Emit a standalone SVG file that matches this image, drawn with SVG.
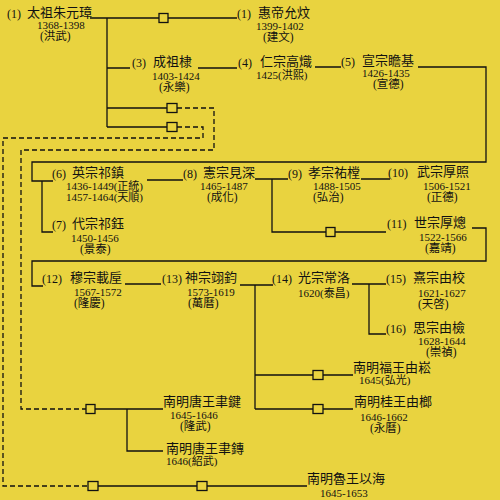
<svg xmlns="http://www.w3.org/2000/svg" width="500" height="500" viewBox="0 0 500 500">
<style>
text{font-family:"Liberation Serif","Noto Sans CJK TC",serif;fill:#111}
.n{font-size:12px}
.m{font-size:13px}
.y{font-size:11px}
.p{font-size:11.5px}
.ln{fill:none;stroke:#111;stroke-width:1.3}
.ds{fill:none;stroke:#111;stroke-width:1.3;stroke-dasharray:5,3}
.sq{fill:none;stroke:#111;stroke-width:1.3}
</style>
<rect width="500" height="500" fill="#E9D33F"/>
<g id="connectors">
<path class="ln" d="M90,18H159M168,18H237"/>
<path class="ln" d="M107,18V127M107,68H130M107,108H167M107,127H167"/>
<path class="ln" d="M198,68H237M315,67H341"/>
<path class="ln" d="M418,67H486V162H32V181H53M42,181V232H53"/>
<path class="ln" d="M147,180H183M255,179H288M361,179H390"/>
<path class="ln" d="M272,179V232H326M335,232H386"/>
<path class="ln" d="M472,228H486V261H32V286H43"/>
<path class="ln" d="M125,284H161M240,285H273"/>
<path class="ln" d="M255,285V409M255,375H313M323,375H353M255,409H313M323,409H353"/>
<path class="ln" d="M352,284H386M369,284V334H386"/>
<path class="ln" d="M95,409H163M127,409V451H163"/>
<path class="ln" d="M98,486H197M207,486H307"/>
<path class="ds" d="M177,108H214V150H21V409H86"/>
<path class="ds" d="M177,127H203V138H3V486H88"/>
<rect class="sq" x="159" y="13.5" width="9" height="9"/>
<rect class="sq" x="167" y="103.5" width="10" height="9"/>
<rect class="sq" x="167" y="122.5" width="10" height="9"/>
<rect class="sq" x="326" y="227.5" width="9" height="9"/>
<rect class="sq" x="313" y="370.5" width="10" height="9"/>
<rect class="sq" x="313" y="404.5" width="10" height="9"/>
<rect class="sq" x="86" y="404.5" width="9" height="9"/>
<rect class="sq" x="88" y="481.5" width="10" height="9"/>
<rect class="sq" x="197" y="481.5" width="10" height="9"/>
</g>
<g id="n1"><text class="n" x="7" y="18">(1)</text><text class="m" x="27" y="17">太祖朱元璋</text><text class="y" x="37" y="29">1368-1398</text><text class="p" x="40" y="40">(洪武)</text></g>
<g id="n2"><text class="n" x="237" y="18">(1)</text><text class="m" x="258" y="17">惠帝允炆</text><text class="y" x="256" y="30">1399-1402</text><text class="p" x="263" y="41">(建文)</text></g>
<g id="n3"><text class="n" x="132" y="67">(3)</text><text class="m" x="153" y="66">成祖棣</text><text class="y" x="152" y="80">1403-1424</text><text class="p" x="159" y="91">(永樂)</text></g>
<g id="n4"><text class="n" x="238" y="67">(4)</text><text class="m" x="260" y="66">仁宗高熾</text><text class="y" x="256" y="79">1425(洪熙)</text></g>
<g id="n5"><text class="n" x="341" y="66">(5)</text><text class="m" x="362" y="65">宣宗瞻基</text><text class="y" x="362" y="77">1426-1435</text><text class="p" x="373" y="88">(宣德)</text></g>
<g id="n6"><text class="n" x="52" y="178">(6)</text><text class="m" x="72" y="177">英宗祁鎮</text><text class="y" x="66" y="190">1436-1449(正統)</text><text class="y" x="66" y="201">1457-1464(天順)</text></g>
<g id="n7"><text class="n" x="52" y="229">(7)</text><text class="m" x="72" y="228">代宗祁鈺</text><text class="y" x="71" y="242">1450-1456</text><text class="p" x="80" y="253">(景泰)</text></g>
<g id="n8"><text class="n" x="183" y="178">(8)</text><text class="m" x="203" y="177">憲宗見深</text><text class="y" x="200" y="190">1465-1487</text><text class="p" x="207" y="201">(成化)</text></g>
<g id="n9"><text class="n" x="288" y="178">(9)</text><text class="m" x="308" y="177">孝宗祐樘</text><text class="y" x="313" y="190">1488-1505</text><text class="p" x="313" y="201">(弘治)</text></g>
<g id="n10"><text class="n" x="388" y="177">(10)</text><text class="m" x="417" y="176">武宗厚照</text><text class="y" x="423" y="190">1506-1521</text><text class="p" x="427" y="201">(正德)</text></g>
<g id="n11"><text class="n" x="387" y="228">(11)</text><text class="m" x="414" y="227">世宗厚熜</text><text class="y" x="419" y="241">1522-1566</text><text class="p" x="425" y="252">(嘉靖)</text></g>
<g id="n12"><text class="n" x="42" y="283">(12)</text><text class="m" x="70" y="282">穆宗載垕</text><text class="y" x="74" y="296">1567-1572</text><text class="p" x="74" y="307">(隆慶)</text></g>
<g id="n13"><text class="n" x="162" y="283" font-size="11">(13)</text><text class="m" x="185" y="282">神宗翊鈞</text><text class="y" x="187" y="296">1573-1619</text><text class="p" x="188" y="307">(萬曆)</text></g>
<g id="n14"><text class="n" x="272" y="283">(14)</text><text class="m" x="298" y="282">光宗常洛</text><text class="y" x="298" y="297">1620(泰昌)</text></g>
<g id="n15"><text class="n" x="386" y="283">(15)</text><text class="m" x="413" y="282">熹宗由校</text><text class="y" x="418" y="297">1621-1627</text><text class="p" x="418" y="308">(天啓)</text></g>
<g id="n16"><text class="n" x="386" y="333">(16)</text><text class="m" x="413" y="332">思宗由檢</text><text class="y" x="418" y="345">1628-1644</text><text class="p" x="426" y="356">(崇禎)</text></g>
<g id="nm1"><text class="m" x="353" y="372">南明福王由崧</text><text class="y" x="359" y="384">1645(弘光)</text></g>
<g id="nm2"><text class="m" x="354" y="406">南明桂王由榔</text><text class="y" x="360" y="421">1646-1662</text><text class="p" x="370" y="432">(永曆)</text></g>
<g id="nm3"><text class="m" x="163" y="406">南明唐王聿鍵</text><text class="y" x="170" y="419">1645-1646</text><text class="p" x="180" y="430">(隆武)</text></g>
<g id="nm4"><text class="m" x="166" y="453">南明唐王聿鏄</text><text class="y" x="166" y="465">1646(紹武)</text></g>
<g id="nm5"><text class="m" x="307" y="483">南明魯王以海</text><text class="y" x="320" y="497">1645-1653</text></g>
</svg>
